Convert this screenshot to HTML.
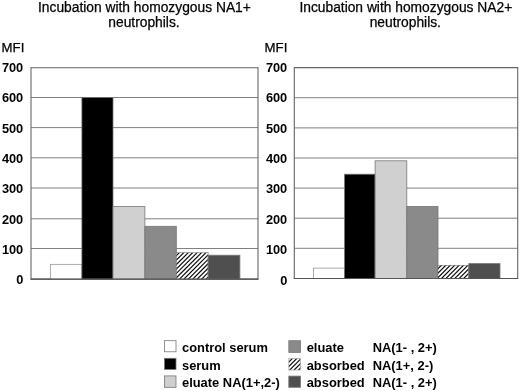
<!DOCTYPE html>
<html><head><meta charset="utf-8">
<style>
html,body{margin:0;padding:0;background:#fff;}
svg{display:block;font-family:"Liberation Sans",sans-serif;}
.t{font-size:13.8px;fill:#000;stroke:#000;stroke-width:0.25px;text-anchor:middle;}
.b{font-size:12.8px;font-weight:bold;fill:#000;}
.r{font-size:13.2px;fill:#000;stroke:#000;stroke-width:0.25px;}
.g line{stroke:#808080;stroke-width:1;}
.g line.o{stroke:#666;stroke-width:1.1;}
.bar{stroke:#777;stroke-width:0.8;}
.b0{stroke:#888;stroke-width:0.7;}
.b4{stroke:#666;stroke-width:0.5;}
.lg{font-size:12.9px;}
</style></head><body>
<svg width="520" height="391" viewBox="0 0 520 391">
<defs>
<filter id="bl" x="0" y="0" width="520" height="391" filterUnits="userSpaceOnUse"><feGaussianBlur stdDeviation="0.4"/></filter>
</defs>
<rect width="520" height="391" fill="#fff"/>
<g filter="url(#bl)">
<text class="t" x="144.4" y="11.6">Incubation with homozygous NA1+</text>
<text class="t" x="144" y="26.5">neutrophils.</text>
<text class="t" x="405.8" y="11.6">Incubation with homozygous NA2+</text>
<text class="t" x="405.3" y="26.5">neutrophils.</text>
<text class="r" x="1.6" y="52">MFI</text>
<text class="r" x="264.6" y="51.8">MFI</text>
<g class="g">
<line class="o" x1="31.0" x2="258.0" y1="67.8" y2="67.8"/>
<line x1="31.0" x2="258.0" y1="97.5" y2="97.5"/>
<line x1="31.0" x2="258.0" y1="127.6" y2="127.6"/>
<line x1="31.0" x2="258.0" y1="157.8" y2="157.8"/>
<line x1="31.0" x2="258.0" y1="188.0" y2="188.0"/>
<line x1="31.0" x2="258.0" y1="218.8" y2="218.8"/>
<line x1="31.0" x2="258.0" y1="248.5" y2="248.5"/>
<line class="o" x1="31.0" x2="258.0" y1="279.1" y2="279.1"/>
<line class="o" x1="31.0" x2="31.0" y1="67.3" y2="279.6"/>
<line class="o" x1="258.0" x2="258.0" y1="67.3" y2="279.6"/>
</g>

<rect class="bar b0" x="50.3" y="264.3" width="31.6" height="14.8" fill="#fff"/>
<rect class="bar b1" x="81.9" y="97.4" width="31.1" height="181.7" fill="#000" stroke="#000"/>
<rect class="bar b2" x="113.0" y="206.6" width="31.9" height="72.5" fill="#d0d0d0"/>
<rect class="bar b3" x="144.9" y="226.3" width="31.4" height="52.8" fill="#8a8a8a"/>
<clipPath id="c1"><rect x="176.30" y="252.70" width="31.80" height="26.40"/></clipPath>
<rect x="176.30" y="252.70" width="31.80" height="26.40" fill="#fff"/>
<g clip-path="url(#c1)" stroke="#111" stroke-width="1.2">
<path d="M175.30 247.85L209.10 214.05M175.30 252.28L209.10 218.48M175.30 256.71L209.10 222.91M175.30 261.14L209.10 227.34M175.30 265.57L209.10 231.77M175.30 270.00L209.10 236.20M175.30 274.43L209.10 240.63M175.30 278.86L209.10 245.06M175.30 283.29L209.10 249.49M175.30 287.72L209.10 253.92M175.30 292.15L209.10 258.35M175.30 296.58L209.10 262.78M175.30 301.01L209.10 267.21M175.30 305.44L209.10 271.64M175.30 309.87L209.10 276.07M175.30 314.30L209.10 280.50" fill="none"/>
</g>
<rect class="bar b4" x="176.3" y="252.7" width="31.8" height="26.4" fill="none"/>
<rect class="bar b5" x="208.1" y="255.2" width="31.8" height="23.9" fill="#505050"/>

<line x1="30.5" x2="258.5" y1="279.1" y2="279.1" stroke="#555" stroke-width="1.1"/>
<g class="g">
<line class="o" x1="294.3" x2="517.7" y1="67.6" y2="67.6"/>
<line x1="294.3" x2="517.7" y1="97.7" y2="97.7"/>
<line x1="294.3" x2="517.7" y1="127.9" y2="127.9"/>
<line x1="294.3" x2="517.7" y1="158.0" y2="158.0"/>
<line x1="294.3" x2="517.7" y1="188.1" y2="188.1"/>
<line x1="294.3" x2="517.7" y1="218.2" y2="218.2"/>
<line x1="294.3" x2="517.7" y1="248.3" y2="248.3"/>
<line class="o" x1="294.3" x2="517.7" y1="278.5" y2="278.5"/>
<line class="o" x1="294.3" x2="294.3" y1="67.1" y2="279.0"/>
<line class="o" x1="517.7" x2="517.7" y1="67.1" y2="279.0"/>
</g>

<rect class="bar b0" x="313.5" y="268.1" width="31.0" height="10.4" fill="#fff"/>
<rect class="bar b1" x="344.5" y="174.2" width="30.6" height="104.3" fill="#000" stroke="#000"/>
<rect class="bar b2" x="375.1" y="160.8" width="31.7" height="117.7" fill="#d0d0d0"/>
<rect class="bar b3" x="406.8" y="206.4" width="31.2" height="72.1" fill="#8a8a8a"/>
<clipPath id="c2"><rect x="438.00" y="265.30" width="30.80" height="13.20"/></clipPath>
<rect x="438.00" y="265.30" width="30.80" height="13.20" fill="#fff"/>
<g clip-path="url(#c2)" stroke="#111" stroke-width="1.2">
<path d="M437.00 260.81L469.80 228.01M437.00 265.24L469.80 232.44M437.00 269.67L469.80 236.87M437.00 274.10L469.80 241.30M437.00 278.53L469.80 245.73M437.00 282.96L469.80 250.16M437.00 287.39L469.80 254.59M437.00 291.82L469.80 259.02M437.00 296.25L469.80 263.45M437.00 300.68L469.80 267.88M437.00 305.11L469.80 272.31M437.00 309.54L469.80 276.74M437.00 313.97L469.80 281.17" fill="none"/>
</g>
<rect class="bar b4" x="438.0" y="265.3" width="30.8" height="13.2" fill="none"/>
<rect class="bar b5" x="468.8" y="263.6" width="31.2" height="14.9" fill="#505050"/>

<line x1="293.8" x2="518.2" y1="278.5" y2="278.5" stroke="#555" stroke-width="1.1"/>
<g class="b">
<text x="1.9" y="72.4">700</text>
<text x="1.9" y="102.3">600</text>
<text x="1.9" y="132.7">500</text>
<text x="1.9" y="163.2">400</text>
<text x="1.9" y="193.0">300</text>
<text x="1.9" y="224.2">200</text>
<text x="1.9" y="254.3">100</text>
<text x="16.3" y="284.3">0</text>

<text x="265.9" y="71.9">700</text>
<text x="265.9" y="102.2">600</text>
<text x="265.9" y="132.6">500</text>
<text x="265.9" y="162.7">400</text>
<text x="265.9" y="192.8">300</text>
<text x="265.9" y="223.6">200</text>
<text x="265.9" y="254.0">100</text>
<text x="280.2" y="284.6">0</text>

</g>
<rect class="bar" x="164.4" y="340.7" width="11.6" height="11.1" fill="#fff"/>
<rect class="bar" x="164.4" y="358.3" width="11.6" height="11.1" fill="#000" stroke="#000"/>
<rect class="bar" x="164.4" y="375.9" width="11.6" height="11.4" fill="#cfcfcf"/>
<rect class="bar" x="288.8" y="340.7" width="11.7" height="11.7" fill="#8a8a8a"/>
<clipPath id="c3"><rect x="288.80" y="358.60" width="11.80" height="11.50"/></clipPath>
<rect x="288.80" y="358.60" width="11.80" height="11.50" fill="#fff"/>
<g clip-path="url(#c3)" stroke="#111" stroke-width="1.2">
<path d="M287.80 354.19L301.60 340.39M287.80 358.62L301.60 344.82M287.80 363.05L301.60 349.25M287.80 367.48L301.60 353.68M287.80 371.91L301.60 358.11M287.80 376.34L301.60 362.54M287.80 380.77L301.60 366.97M287.80 385.20L301.60 371.40" fill="none"/>
</g>

<rect x="288.8" y="358.6" width="11.8" height="11.5" fill="none" stroke="#aaa" stroke-width="0.7"/>
<rect class="bar" x="288.8" y="376.1" width="11.7" height="11.2" fill="#505050"/>
<g class="b lg">
<text x="182" y="351.6">control serum</text>
<text x="182" y="369.7">serum</text>
<text x="182" y="387.2">eluate NA(1+,2-)</text>
<text x="306.7" y="351.6">eluate</text>
<text x="306.7" y="369.5">absorbed</text>
<text x="306.7" y="387">absorbed</text>
<text x="372.7" y="351.6">NA(1- , 2+)</text>
<text x="372.7" y="369.5">NA(1+, 2-)</text>
<text x="372.7" y="387">NA(1- , 2+)</text>
</g>
</g>
</svg>
</body></html>
